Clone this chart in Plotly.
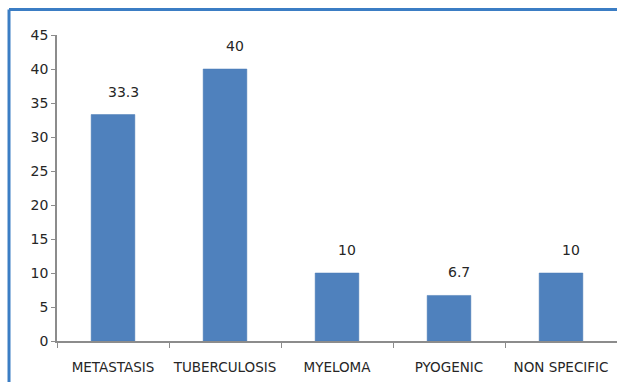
import plotly.graph_objects as go

categories = ["METASTASIS", "TUBERCULOSIS", "MYELOMA", "PYOGENIC", "NON SPECIFIC"]
values = [33.3, 40, 10, 6.7, 10]
labels = ["33.3", "40", "10", "6.7", "10"]
y_ticks = [0, 5, 10, 15, 20, 25, 30, 35, 40, 45]

FONT = "DejaVu Sans"
TXT = "#262626"

fig = go.Figure()
fig.add_trace(go.Bar(
    x=categories, y=values,
    marker=dict(color="#4F81BD", line=dict(color="#4A7AB5", width=0.5)),
    width=0.39, showlegend=False,
))

for c, v, t in zip(categories, values, labels):
    fig.add_annotation(x=c, y=v, text=t, showarrow=False, yanchor="bottom",
                       yshift=13, xshift=10,
                       font=dict(family=FONT, size=14, color=TXT))

fig.update_layout(
    width=617, height=382,
    margin=dict(l=57, r=0, t=35, b=41),
    paper_bgcolor="white", plot_bgcolor="white",
    font=dict(family=FONT, size=14, color=TXT),
    xaxis=dict(showline=True, linecolor="#8C8C8C", linewidth=1.5,
               ticks="outside", ticklen=5, tickcolor="#8C8C8C",
               tickson="boundaries", showgrid=False, tickangle=0,
               automargin=False, ticklabelstandoff=13,
               tickfont=dict(family=FONT, size=13.5, color=TXT),
               range=[-0.5, 4.5]),
    yaxis=dict(range=[0, 45], tickvals=y_ticks, showline=True,
               linecolor="#8C8C8C", linewidth=1.5, ticks="outside",
               ticklen=4, tickcolor="#8C8C8C", showgrid=False, zeroline=False,
               automargin=False,
               tickfont=dict(family=FONT, size=14, color=TXT)),
    shapes=[
        dict(type="line", xref="paper", yref="paper", x0=-0.0857, x1=1.1,
             y0=1.0833, y1=1.0833, line=dict(color="#3B7DC4", width=3)),
        dict(type="line", xref="paper", yref="paper", x0=-0.0857, x1=-0.0857,
             y0=-0.2, y1=1.0833, line=dict(color="#3B7DC4", width=3)),
    ],
)

fig.write_html("out.html")
